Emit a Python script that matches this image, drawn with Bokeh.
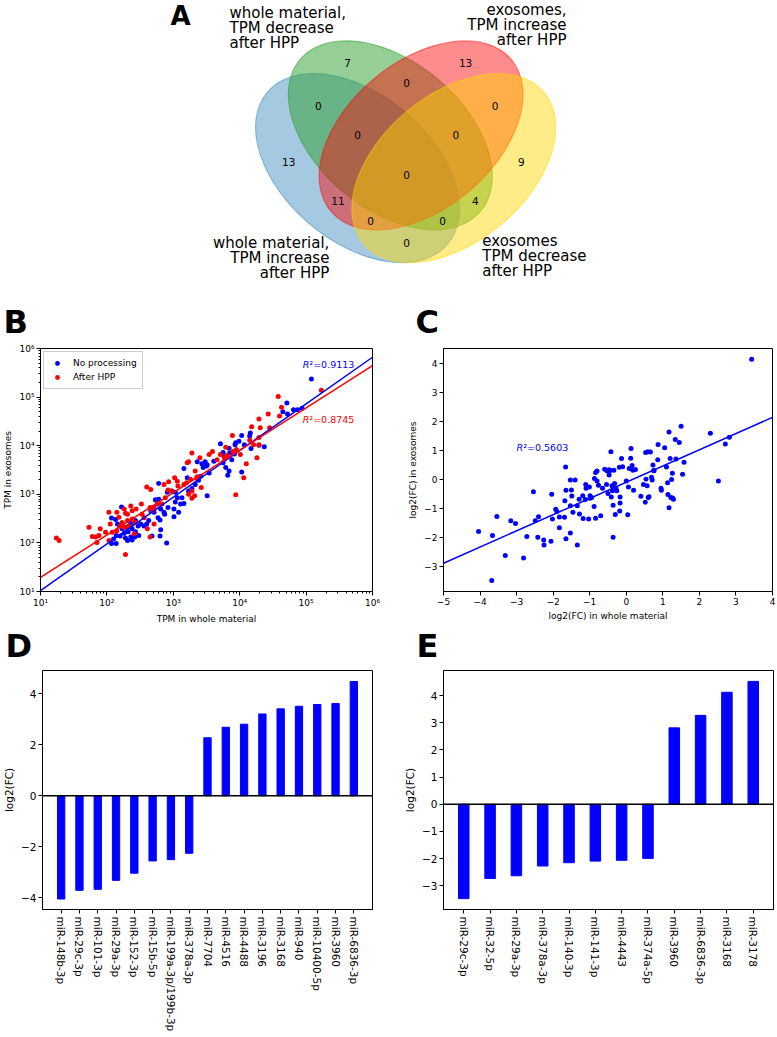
import numpy as np
from bokeh.plotting import figure
from bokeh.layouts import column, row
from bokeh.models import (Range1d, FactorRange, FixedTicker, Span, Legend,
                          LegendItem, ColumnDataSource)
from bokeh.core.properties import value
from bokeh.embed import file_html
from bokeh.resources import INLINE

FONT = "DejaVu Sans"

# ---------------- Panel A data (4-set Venn) ----------------
set_names = ["whole material,\nTPM increase\nafter HPP",
             "whole material,\nTPM decrease\nafter HPP",
             "exosomes,\nTPM increase\nafter HPP",
             "exosomes\nTPM decrease\nafter HPP"]
region_codes = ["0001", "0010", "0011", "0100", "0101", "0110", "0111", "1000",
                "1001", "1010", "1011", "1100", "1101", "1110", "1111"]
region_counts = [9, 13, 0, 7, 4, 0, 0, 13, 0, 11, 0, 0, 0, 0, 0]

# ---------------- Panel B data (log10 TPM) ----------------
b_np_whole_log10 = [5.08, 4.71, 4.65, 4.72, 4.81, 4.87, 4.94, 4.16, 4.15, 4.03,
                    3.94, 3.99, 3.93, 4.07, 4.17, 4.37, 4.29, 3.71, 3.75, 3.76,
                    3.84, 3.85, 3.92, 3.88, 3.75, 3.79, 3.84, 4.03, 3.82, 3.16,
                    3.36, 3.43, 3.48, 3.51, 3.61, 3.45, 3.50, 3.54, 3.41, 3.38,
                    3.51, 3.33, 3.21, 3.23, 3.28, 2.78, 2.91, 2.98, 3.03, 3.06,
                    3.13, 3.03, 3.11, 3.16, 3.01, 3.08, 3.01, 2.92, 2.73, 2.78,
                    2.76, 2.81, 2.86, 2.87, 2.77, 2.80, 2.81, 2.80, 2.68, 2.90,
                    2.56, 2.60, 2.63, 2.66, 2.71, 2.22, 2.07, 2.13, 2.16, 2.19,
                    2.23, 2.28, 2.33, 2.36, 2.43, 2.47, 2.51, 2.38, 2.43, 2.48,
                    2.42, 2.36, 2.38, 2.28, 2.31, 2.20, 2.14, 2.10, 2.07, 2.14,
                    2.26, 2.32]
b_np_exo_log10 = [5.37, 4.88, 4.70, 4.65, 4.74, 4.74, 4.77, 4.26, 4.20, 4.21,
                  4.06, 4.09, 4.02, 4.02, 3.94, 3.98, 4.01, 4.04, 3.86, 3.80,
                  3.95, 3.85, 3.83, 3.71, 3.65, 3.55, 3.48, 3.46, 3.39, 3.53,
                  3.67, 3.63, 3.67, 3.61, 3.68, 3.55, 3.58, 3.44, 3.37, 3.29,
                  2.97, 3.20, 3.34, 3.07, 3.12, 3.22, 3.04, 3.07, 3.04, 2.93,
                  2.93, 2.84, 2.80, 2.81, 2.70, 2.63, 2.54, 2.73, 2.89, 2.90,
                  2.80, 2.70, 2.63, 2.59, 2.52, 2.47, 2.27, 2.14, 2.14, 2.00,
                  2.35, 2.39, 2.46, 2.66, 2.63, 2.74, 2.51, 2.48, 2.39, 2.35,
                  2.29, 2.32, 2.35, 2.40, 2.46, 2.35, 2.39, 2.29, 2.23, 2.15,
                  2.12, 2.12, 2.06, 2.10, 2.05, 2.14, 2.15, 2.08, 1.99, 1.99,
                  2.20, 2.23]
b_hpp_whole_log10 = [5.23, 4.58, 4.63, 4.60, 4.43, 4.29, 4.31, 4.45, 4.18, 3.89,
                     4.29, 4.15, 4.29, 4.21, 4.26, 4.10, 3.94, 4.06, 4.01, 3.59,
                     3.54, 3.40, 3.28, 3.23, 3.21, 3.33, 3.36, 3.42, 3.28, 3.32,
                     3.26, 3.35, 3.20, 3.16, 3.28, 3.23, 3.79, 3.81, 3.90, 3.95,
                     3.71, 3.77, 3.66, 2.93, 3.02, 3.06, 2.92, 2.97, 3.07, 2.86,
                     2.88, 2.83, 2.66, 2.60, 2.76, 2.71, 2.68, 2.65, 2.52, 2.61,
                     2.65, 2.71, 2.53, 2.56, 2.36, 2.38, 2.44, 2.26, 2.28, 2.15,
                     2.03, 2.05, 2.18, 2.23, 2.31, 2.33, 2.38, 2.43, 2.20, 2.26,
                     2.15, 2.08, 1.98, 1.90, 1.88, 1.83, 1.78, 1.73, 1.85, 2.28,
                     1.24, 1.28, 2.03, 2.41, 2.31]
b_hpp_exo_log10 = [5.14, 5.01, 4.79, 4.61, 4.65, 4.55, 4.37, 4.37, 4.39, 4.21,
                   4.17, 4.11, 4.02, 4.02, 3.75, 3.63, 2.99, 3.34, 3.82, 3.88,
                   3.82, 3.75, 3.85, 3.67, 3.65, 3.48, 3.36, 3.14, 2.92, 2.97,
                   3.31, 3.33, 3.24, 3.20, 3.07, 3.00, 3.97, 3.80, 3.88, 3.92,
                   3.82, 3.75, 3.71, 3.26, 3.34, 3.27, 3.09, 3.07, 3.17, 3.20,
                   2.93, 2.80, 3.10, 3.15, 2.81, 2.73, 2.66, 2.73, 2.80, 2.29,
                   2.12, 2.39, 2.59, 2.52, 2.76, 2.66, 2.70, 2.70, 2.61, 2.63,
                   2.63, 2.39, 2.53, 2.42, 2.46, 2.35, 2.49, 2.42, 2.35, 2.32,
                   2.25, 2.22, 2.22, 2.29, 2.15, 2.12, 2.13, 2.32, 2.01, 1.76,
                   2.10, 2.05, 2.05, 2.19, 2.59]
# log-log fits: (intercept, slope) in log10 space, and R^2 values
b_fit_noproc = (0.06, 0.96)
b_fit_hpp = (0.418, 0.872)
b_r2_values = ["0.9113", "0.8745"]

# ---------------- Panel C data (log2 FC) ----------------
c_fc_whole = [3.43, -4.04, -3.66, -3.54, -3.31, -3.68, -3.16, -3.03, -2.81, -2.72,
              -2.54, -2.49, -2.40, -2.42, -2.26, -2.25, -2.06, -2.04, -2.02, -1.93,
              -1.90, -1.83, -1.83, -1.69, -1.66, -1.68, -1.65, -1.65, -1.53, -1.53,
              -1.53, -1.50, -1.49, -1.46, -1.40, -1.34, -1.34, -1.29, -1.28, -1.19,
              -1.18, -1.12, -1.11, -1.10, -1.03, -1.01, -0.99, -0.99, -0.95, -0.88,
              -0.87, -0.84, -0.84, -0.80, -0.80, -0.76, -0.70, -0.65, -0.59, -0.54,
              -0.52, -0.50, -0.47, -0.47, -0.44, -0.42, -0.41, -0.39, -0.38, -0.36,
              -0.36, -0.34, -0.32, -0.30, -0.28, -0.26, -0.19, -0.17, -0.17, -0.18,
              -0.13, -0.10, 0.00, 0.04, 0.06, 0.08, 0.12, 0.13, 0.16, 0.18,
              0.20, 0.25, 0.40, 0.47, 0.52, 0.53, 0.54, 0.57, 0.59, 0.60,
              0.62, 0.66, 0.69, 0.71, 0.73, 0.75, 0.76, 0.86, 0.87, 0.95,
              0.96, 1.05, 1.10, 1.13, 1.14, 1.17, 1.17, 1.20, 1.22, 1.24,
              1.26, 1.27, 1.29, 1.34, 1.36, 1.45, 1.50, 1.54, 1.58, 2.30,
              2.52, 2.71, 2.82]
c_fc_exo = [4.13, -1.79, -1.93, -1.27, -2.61, -3.47, -1.42, -1.51, -2.70, -1.96,
            -0.42, -1.42, -1.28, -1.99, -2.08, -2.25, -2.12, -0.51, -1.36, -1.02,
            -1.10, -1.29, -1.66, -1.30, 0.43, -0.73, -2.04, -0.37, -0.02, -0.90,
            -1.84, -0.36, -0.57, -1.13, -0.02, -2.25, -0.90, -0.68, -1.19, -0.56,
            -1.34, -0.69, -0.17, -0.30, -1.36, -0.26, -0.56, -0.65, -0.62, -0.93,
            0.03, -1.33, 0.24, 0.29, -0.05, -0.20, -1.25, -0.30, 0.35, -0.17,
            0.29, -0.48, 0.15, 0.33, 0.31, 0.95, -0.60, -0.22, -0.39, -0.89,
            -1.99, 0.32, -0.14, -1.20, -0.30, -0.39, 0.42, -0.60, -0.81, -1.08,
            0.72, 0.44, -0.05, -1.21, -0.26, 0.38, 0.73, 1.06, 0.48, 0.32,
            -0.37, 0.34, -0.58, -0.17, -0.78, 0.93, 0.01, -0.22, 0.95, -0.62,
            -0.59, 0.94, 0.08, -0.02, 0.50, 0.31, 0.30, 0.68, 1.20, -0.30,
            -0.37, 1.09, 0.43, -0.11, -0.52, 1.63, -0.97, 0.72, -0.62, 0.00,
            0.21, -0.64, -0.68, 1.37, 0.70, 1.27, 1.83, 0.18, 0.59, 1.59,
            -0.05, 1.22, 1.45]
c_fit = (-0.095, 0.557)   # intercept, slope
c_r2_value = "0.5603"

# ---------------- Panel D data ----------------
d_mirna = ["miR-148b-3p", "miR-29c-3p", "miR-101-3p", "miR-29a-3p", "miR-152-3p",
           "miR-15b-5p", "miR-199a-3p/199b-3p", "miR-378a-3p", "miR-7704",
           "miR-4516", "miR-4488", "miR-3196", "miR-3168", "miR-940",
           "miR-10400-5p", "miR-3960", "miR-6836-3p"]
d_log2fc = [-4.04, -3.70, -3.66, -3.31, -3.03, -2.55, -2.50, -2.25, 2.27,
            2.68, 2.80, 3.20, 3.40, 3.50, 3.57, 3.61, 4.47]

# ---------------- Panel E data ----------------
e_mirna = ["miR-29c-3p", "miR-32-5p", "miR-29a-3p", "miR-378a-3p", "miR-140-3p",
           "miR-141-3p", "miR-4443", "miR-374a-5p", "miR-3960", "miR-6836-3p",
           "miR-3168", "miR-3178"]
e_log2fc = [-3.47, -2.73, -2.63, -2.27, -2.15, -2.09, -2.06, -1.99, 2.81, 3.27,
            4.12, 4.52]

MINUS = "\u2212"


def style_axes(p, fs):
    p.grid.visible = False
    p.outline_line_color = "black"
    p.outline_line_width = 1
    p.outline_line_alpha = 1
    p.background_fill_color = "white"
    p.border_fill_color = "white"
    for ax in list(p.xaxis) + list(p.yaxis):
        ax.axis_line_color = "black"
        ax.major_tick_line_color = "black"
        ax.minor_tick_line_color = "black"
        ax.major_tick_out = 4
        ax.major_tick_in = 0
        ax.minor_tick_out = 2
        ax.minor_tick_in = 0
        ax.major_label_text_font = FONT
        ax.major_label_text_font_size = fs
        ax.major_label_text_color = "black"
        ax.axis_label_text_font = FONT
        ax.axis_label_text_font_size = fs
        ax.axis_label_text_font_style = "normal"
        ax.axis_label_text_color = "black"
        ax.major_label_standoff = 2
        ax.axis_label_standoff = 3


def bold_letter(p, x, y, txt, size="32px"):
    p.text(x=[x], y=[y], text=[txt], text_align="left",
           text_baseline="middle", text_font=value(FONT),
           text_font_style="bold", text_font_size=size, text_color="black")


def r2_text(p, xs, ys, vals, colors):
    # italic R followed by "²=value", as in matplotlib mathtext
    p.text(x=xs, y=ys, text=["R"] * len(xs), text_color=colors,
           text_align="left", text_baseline="middle", text_font=value(FONT),
           text_font_style="italic", text_font_size="9.5px")
    p.text(x=xs, y=ys, text=["\u00b2=" + v for v in vals], text_color=colors,
           x_offset=6.6, text_align="left", text_baseline="middle",
           text_font=value(FONT), text_font_size="9.5px")


# ======================= Panel A: Venn (also carries letters B, C) =========
S = 327.5
venn = figure(width=776, height=340, x_range=Range1d(-0.7402, 1.6293),
              y_range=Range1d(-0.1264, 0.9118), output_backend="svg",
              toolbar_location=None, x_axis_location=None, y_axis_location=None,
              min_border=0)
venn.grid.visible = False
venn.outline_line_color = None

ell = ColumnDataSource(dict(
    x=[0.350, 0.450, 0.544, 0.644], y=[0.400, 0.500, 0.500, 0.400],
    w=[0.72] * 4, h=[0.45] * 4, a=[140.0, 140.0, 40.0, 40.0],
    c=["#1f77b4", "#2ca02c", "#ff0000", "#ffd700"],
    fa=[0.40, 0.50, 0.45, 0.47]))
venn.ellipse(x="x", y="y", width="w", height="h", angle="a", angle_units="deg",
             source=ell, fill_color="c", fill_alpha="fa", line_color="c",
             line_alpha="fa", line_width=1.2)

region_pos = {"0001": (0.85, 0.42), "0010": (0.68, 0.72), "0011": (0.77, 0.59),
              "0100": (0.32, 0.72), "0101": (0.71, 0.30), "0110": (0.50, 0.66),
              "0111": (0.65, 0.50), "1000": (0.14, 0.42), "1001": (0.50, 0.17),
              "1010": (0.29, 0.30), "1011": (0.39, 0.24), "1100": (0.23, 0.59),
              "1101": (0.61, 0.24), "1110": (0.35, 0.50), "1111": (0.50, 0.38)}
venn.text(x=[region_pos[c][0] for c in region_codes],
          y=[region_pos[c][1] for c in region_codes],
          text=[str(n) for n in region_counts], text_align="center",
          text_baseline="middle", text_font=value(FONT), text_font_size="10.5px",
          text_color="black")

name_pos = [(0.264, 0.170, "right"), (-0.041, 0.875, "left"),
            (0.988, 0.884, "right"), (0.731, 0.176, "left")]
step = 15.0 / S
for name, (nx, ny, al) in zip(set_names, name_pos):
    lines = name.split("\n")
    venn.text(x=[nx] * len(lines), y=[ny - i * step for i in range(len(lines))],
              text=lines, text_align=al, text_baseline="middle",
              text_font=value(FONT), text_font_size="15px", text_color="black")

bold_letter(venn, -0.221, 0.863, "A", size="26px")
bold_letter(venn, -0.731, -0.070, "B")
bold_letter(venn, 0.527, -0.071, "C")

# ======================= Panel B =======================
pB = figure(width=390, height=286, x_axis_type="log", y_axis_type="log",
            x_range=Range1d(10, 1e6), y_range=Range1d(10, 1e6),
            output_backend="svg", toolbar_location=None,
            min_border_left=40, min_border_right=18, min_border_top=8,
            min_border_bottom=33)
style_axes(pB, "9px")
sup = {1: "\u00b9", 2: "\u00b2", 3: "\u00b3", 4: "\u2074", 5: "\u2075", 6: "\u2076"}
major = [10 ** k for k in range(1, 7)]
minor = [m * 10 ** k for k in range(1, 6) for m in range(2, 10)]
for ax in (pB.xaxis[0], pB.yaxis[0]):
    ax.ticker = FixedTicker(ticks=major, minor_ticks=minor)
    ax.major_label_overrides = {10 ** k: "10" + sup[k] for k in range(1, 7)}
pB.xaxis.axis_label = "TPM in whole material"
pB.yaxis.axis_label = "TPM in exosomes"

rb = pB.scatter(10 ** np.array(b_np_whole_log10), 10 ** np.array(b_np_exo_log10),
                size=5, color="blue", line_color=None)
rr = pB.scatter(10 ** np.array(b_hpp_whole_log10), 10 ** np.array(b_hpp_exo_log10),
                size=5, color="red", line_color=None)
lx = np.array([10.0, 1e6])
pB.line(lx, 10 ** (b_fit_noproc[0] + b_fit_noproc[1] * np.log10(lx)),
        line_color="blue", line_width=1.5)
pB.line(lx, 10 ** (b_fit_hpp[0] + b_fit_hpp[1] * np.log10(lx)),
        line_color="red", line_width=1.5)
r2_text(pB, [8.9e4, 8.9e4], [10 ** 5.67, 10 ** 4.53], b_r2_values, ["blue", "red"])
leg = Legend(items=[LegendItem(label="No processing", renderers=[rb]),
                    LegendItem(label="After HPP", renderers=[rr])],
             location="top_left", margin=3, padding=5, spacing=2,
             label_text_font=FONT, label_text_font_size="9px",
             label_text_color="black", glyph_width=16, glyph_height=12,
             label_height=12, label_standoff=8, border_line_color="#cccccc",
             border_line_alpha=1, background_fill_alpha=0.8)
pB.add_layout(leg)

# ======================= Panel C =======================
pC = figure(width=386, height=286, x_range=Range1d(-5, 4),
            y_range=Range1d(-3.85, 4.5), output_backend="svg",
            toolbar_location=None, min_border_left=53, min_border_right=4,
            min_border_top=8, min_border_bottom=33)
style_axes(pC, "9px")
pC.xaxis.ticker = FixedTicker(ticks=list(range(-5, 5)))
pC.yaxis.ticker = FixedTicker(ticks=list(range(-3, 5)))
pC.xaxis.major_label_overrides = {k: MINUS + str(-k) for k in range(-5, 0)}
pC.yaxis.major_label_overrides = {k: MINUS + str(-k) for k in range(-3, 0)}
for ax in (pC.xaxis[0], pC.yaxis[0]):
    ax.minor_tick_line_color = None
pC.xaxis.axis_label = "log2(FC) in whole material"
pC.yaxis.axis_label = "log2(FC) in exosomes"
pC.scatter(c_fc_whole, c_fc_exo, size=5, color="blue", line_color=None)
cx = np.array([-5.0, 4.0])
pC.line(cx, c_fit[0] + c_fit[1] * cx, line_color="blue", line_width=1.5)
r2_text(pC, [-3.0], [1.11], [c_r2_value], ["blue"])

# ======================= strip with letters D, E =======================
strip = figure(width=776, height=40, x_range=Range1d(0, 776),
               y_range=Range1d(40, 0), output_backend="svg",
               toolbar_location=None, x_axis_location=None,
               y_axis_location=None, min_border=0)
strip.grid.visible = False
strip.outline_line_color = None
bold_letter(strip, 5, 19.5, "D")
bold_letter(strip, 416, 19.5, "E")


# ======================= Panels D, E =======================
def bar_panel(names, vals, width, left, right, ylo, yhi, ticks, pad):
    p = figure(width=width, height=369,
               x_range=FactorRange(factors=names, range_padding=pad),
               y_range=Range1d(ylo, yhi), output_backend="svg",
               toolbar_location=None, min_border_left=left,
               min_border_right=right, min_border_top=4, min_border_bottom=126)
    style_axes(p, "10.5px")
    p.vbar(x=names, top=vals, width=0.4, color="blue")
    p.add_layout(Span(location=0, dimension="width", line_color="black",
                      line_width=1.5))
    p.yaxis.ticker = FixedTicker(ticks=ticks)
    p.yaxis.major_label_overrides = {k: MINUS + str(-k) for k in ticks if k < 0}
    p.yaxis.minor_tick_line_color = None
    p.xaxis.major_label_orientation = "vertical"
    p.xaxis.major_label_standoff = 3
    p.yaxis.axis_label = "log2(FC)"
    return p


pD = bar_panel(d_mirna, d_log2fc, 390, 41, 18, -4.45, 4.9,
               [-4, -2, 0, 2, 4], 1.04 / 17)
pE = bar_panel(e_mirna, e_log2fc, 386, 53, 3, -3.87, 4.92,
               [-3, -2, -1, 0, 1, 2, 3, 4], 0.54 / 12)

layout = column(venn, row(pB, pC), strip, row(pD, pE))
open("out.html", "w").write(file_html(layout, INLINE))
